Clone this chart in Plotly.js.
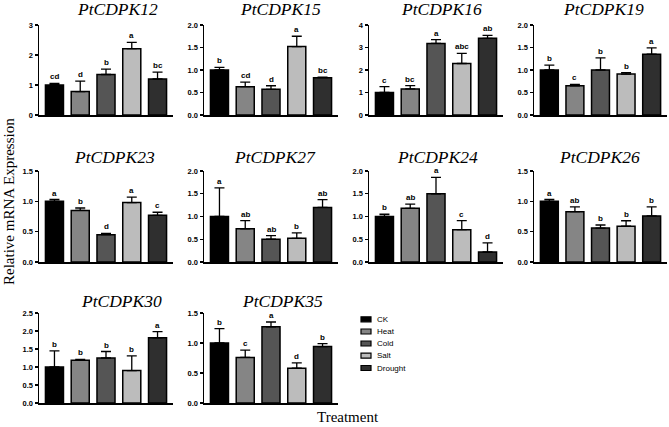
<!DOCTYPE html>
<html><head><meta charset="utf-8">
<script src="https://cdn.plot.ly/plotly-3.0.1.min.js"></script>
<style>html,body{margin:0;padding:0;background:#fff}#chart{width:669px;height:427px}</style>
</head><body><div id="chart"></div>
<script>
// ---- data ----
const treatments = ['CK','Heat','Cold','Salt','Drought'];
const genes = ['PtCDPK12','PtCDPK15','PtCDPK16','PtCDPK19','PtCDPK23','PtCDPK27','PtCDPK24','PtCDPK26','PtCDPK30','PtCDPK35'];

const mean12 = [1.00, 0.78, 1.35, 2.21, 1.20];
const err12  = [0.05, 0.35, 0.18, 0.21, 0.23];
const sig12  = ['cd','d','b','a','bc'];

const mean15 = [1.00, 0.63, 0.57, 1.52, 0.83];
const err15  = [0.06, 0.10, 0.08, 0.23, 0.01];
const sig15  = ['b','cd','d','a','bc'];

const mean16 = [1.00, 1.16, 3.18, 2.29, 3.41];
const err16  = [0.26, 0.15, 0.17, 0.45, 0.13];
const sig16  = ['c','bc','a','abc','ab'];

const mean19 = [1.00, 0.65, 1.00, 0.91, 1.35];
const err19  = [0.11, 0.03, 0.27, 0.03, 0.14];
const sig19  = ['b','c','b','b','a'];

const mean23 = [1.00, 0.85, 0.45, 0.98, 0.77];
const err23  = [0.03, 0.04, 0.02, 0.09, 0.05];
const sig23  = ['a','b','d','a','c'];

const mean27 = [1.00, 0.73, 0.50, 0.52, 1.20];
const err27  = [0.63, 0.18, 0.08, 0.12, 0.17];
const sig27  = ['a','ab','ab','b','ab'];

const mean24 = [1.00, 1.18, 1.50, 0.71, 0.22];
const err24  = [0.05, 0.09, 0.36, 0.20, 0.20];
const sig24  = ['b','ab','a','c','d'];

const mean26 = [1.00, 0.83, 0.56, 0.59, 0.76];
const err26  = [0.03, 0.08, 0.05, 0.09, 0.15];
const sig26  = ['a','ab','b','b','b'];

const mean30 = [1.00, 1.19, 1.25, 0.90, 1.81];
const err30  = [0.45, 0.02, 0.18, 0.41, 0.17];
const sig30  = ['b','b','b','b','a'];

const mean35 = [1.00, 0.76, 1.27, 0.58, 0.94];
const err35  = [0.24, 0.12, 0.08, 0.09, 0.05];
const sig35  = ['b','c','a','d','b'];

const axisMax  = [3, 2, 4, 2, 1.5, 2, 2, 1.5, 2.5, 1.5];
const tickStep = [1, 0.5, 1, 0.5, 0.5, 0.5, 0.5, 0.5, 0.5, 0.5];

const means = [mean12, mean15, mean16, mean19, mean23, mean27, mean24, mean26, mean30, mean35];
const errs  = [err12, err15, err16, err19, err23, err27, err24, err26, err30, err35];
const sigs  = [sig12, sig15, sig16, sig19, sig23, sig27, sig24, sig26, sig30, sig35];

// ---- style / layout ----
const W = 669, H = 427;
const px = v => v / W;
const py = v => 1 - v / H;
const barColors = ['#000000', '#858585', '#555555', '#bcbcbc', '#2f2f2f'];
const colX = [[39,173],[204,338],[369,503],[534,667]];
const rowY = [[25,115],[171,262],[313,403]];
const titleX = [117, 280, 441, 603, 115, 275, 437, 599, 121, 282];
const titleY = [9, 157, 301];

const data = [];
const layout = {
  width: W, height: H,
  margin: {l:0, r:0, t:0, b:0},
  paper_bgcolor: '#fff', plot_bgcolor: 'rgba(0,0,0,0)',
  showlegend: false,
  annotations: [], shapes: [],
  font: {family: 'Liberation Sans, Arial, sans-serif', color: '#000'}
};

genes.forEach((g, i) => {
  const row = Math.floor(i / 4), col = i % 4;
  const n = i === 0 ? '' : String(i + 1);
  const xr = 'x' + n, yr = 'y' + n;
  data.push({
    type: 'bar', x: treatments, y: means[i], xaxis: xr, yaxis: yr,
    width: 0.7,
    marker: {color: barColors, line: {color: '#000', width: 1.5}},
    error_y: {type: 'data', symmetric: false, array: errs[i], arrayminus: treatments.map(() => 0),
              color: '#000', thickness: 1.3, width: 5},
    hoverinfo: 'skip'
  });
  layout['xaxis' + n] = {
    domain: [px(colX[col][0]), px(colX[col][1])], anchor: yr,
    type: 'category', range: [-0.6, 4.6],
    showline: true, linecolor: '#000', linewidth: 1.5,
    showticklabels: false, ticks: '', showgrid: false, zeroline: false, fixedrange: true
  };
  layout['yaxis' + n] = {
    domain: [py(rowY[row][1]), py(rowY[row][0])], anchor: xr,
    range: [0, axisMax[i]], tick0: 0, dtick: tickStep[i],
    tickformat: tickStep[i] >= 1 ? 'd' : '.1f',
    showline: true, linecolor: '#000', linewidth: 1.5,
    ticks: 'outside', ticklen: 3, tickwidth: 1.3, tickcolor: '#000',
    tickfont: {family: 'Liberation Sans, Arial, sans-serif', size: 7.5, weight: 'bold', color: '#000'},
    showgrid: false, zeroline: false, fixedrange: true
  };
  layout.annotations.push({
    xref: 'paper', yref: 'paper', x: px(titleX[i]), y: py(titleY[row]),
    xanchor: 'center', yanchor: 'middle', showarrow: false, text: '<i>' + g + '</i>',
    font: {family: 'Liberation Serif, Times New Roman, serif', size: 17.5, weight: 'normal', color: '#000'}
  });
  treatments.forEach((t, k) => {
    layout.annotations.push({
      xref: xr, yref: yr, x: t, y: means[i][k] + errs[i][k],
      xanchor: 'center', yanchor: 'bottom', showarrow: false, yshift: 0,
      text: sigs[i][k],
      font: {family: 'Liberation Sans, Arial, sans-serif', size: 8, weight: 'bold', color: '#000'}
    });
  });
});

// custom legend
const legY = [319.3, 331.5, 343.5, 355.7, 368];
treatments.forEach((t, k) => {
  layout.shapes.push({
    type: 'rect', xref: 'paper', yref: 'paper',
    x0: px(361), x1: px(371), y0: py(legY[k] + 2.5), y1: py(legY[k] - 2.5),
    fillcolor: barColors[k], line: {color: '#000', width: 1.2}
  });
  layout.annotations.push({
    xref: 'paper', yref: 'paper', x: px(375), y: py(legY[k]),
    xanchor: 'left', yanchor: 'middle', showarrow: false, text: t,
    font: {family: 'Liberation Sans, Arial, sans-serif', size: 8, color: '#000'}
  });
});

// axis titles
layout.annotations.push({
  xref: 'paper', yref: 'paper', x: px(9), y: py(202), textangle: -90,
  xanchor: 'center', yanchor: 'middle', showarrow: false, text: 'Relative mRNA Expression',
  font: {family: 'Liberation Serif, Times New Roman, serif', size: 15, color: '#000'}
});
layout.annotations.push({
  xref: 'paper', yref: 'paper', x: px(348), y: py(417),
  xanchor: 'center', yanchor: 'middle', showarrow: false, text: 'Treatment',
  font: {family: 'Liberation Serif, Times New Roman, serif', size: 15, color: '#000'}
});

Plotly.newPlot('chart', data, layout, {displayModeBar: false, staticPlot: true});
</script>
</body></html>
